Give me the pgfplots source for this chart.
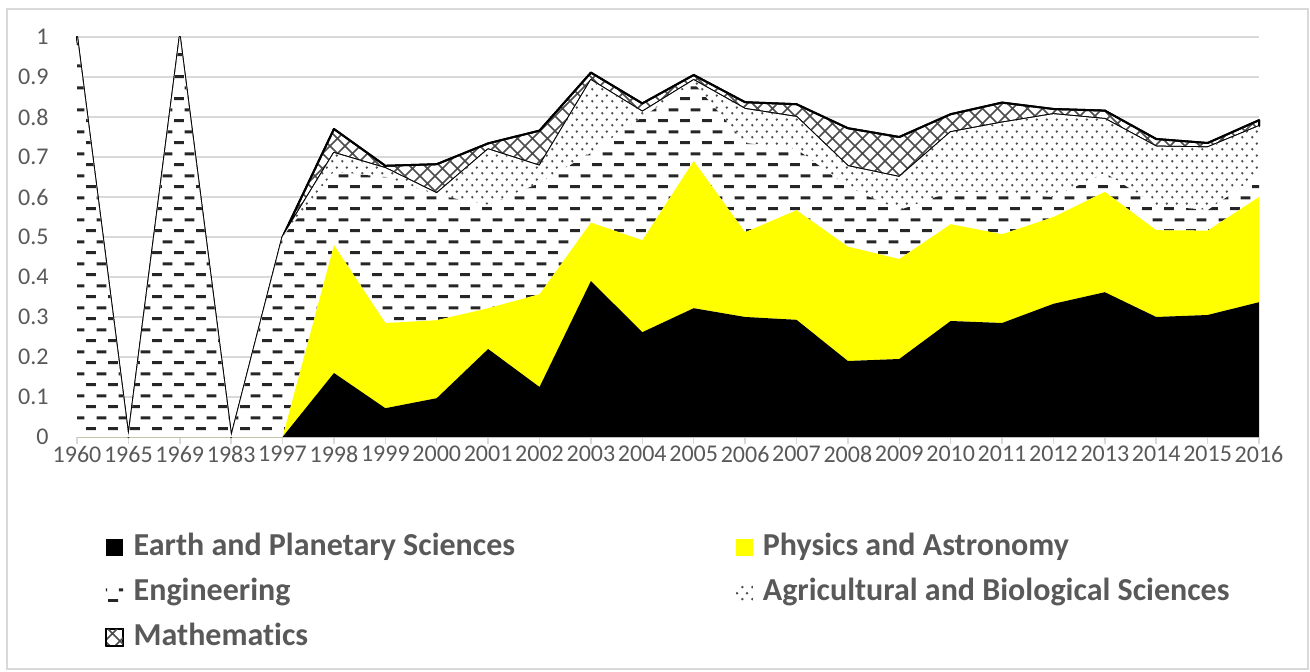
\documentclass[border=0pt]{standalone}
\usepackage{fontspec}
\setmainfont{Carlito}[Ligatures=NoCommon]
\usepackage{pgfplots}
\usepackage{pgfplotstable}
\pgfplotsset{compat=1.18}
\usetikzlibrary{patterns}
\definecolor{txt}{HTML}{595959}
\definecolor{grd}{HTML}{D9D9D9}
\definecolor{yel}{HTML}{FFFF00}
\pgfdeclarepatternformonly{xdash}{\pgfqpoint{0pt}{0pt}}{\pgfqpoint{10.8pt}{10.8pt}}{\pgfqpoint{10.8pt}{10.8pt}}{%
 \pgfpathrectangle{\pgfqpoint{0pt}{2pt}}{\pgfqpoint{5pt}{1.5pt}}%
 \pgfpathrectangle{\pgfqpoint{5.4pt}{7.4pt}}{\pgfqpoint{5pt}{1.5pt}}%
 \pgfusepath{fill}}
\pgfdeclarepatternformonly{xdots}{\pgfqpoint{0pt}{0pt}}{\pgfqpoint{5pt}{5.8pt}}{\pgfqpoint{5pt}{5.8pt}}{%
 \pgfpathcircle{\pgfqpoint{1.25pt}{1.45pt}}{0.7pt}%
 \pgfpathcircle{\pgfqpoint{3.75pt}{4.35pt}}{0.7pt}%
 \pgfusepath{fill}}
\pgfdeclarepatternformonly{xhatch}{\pgfqpoint{-0.5pt}{-0.5pt}}{\pgfqpoint{8pt}{8pt}}{\pgfqpoint{7.5pt}{7.5pt}}{%
 \pgfsetlinewidth{0.8pt}%
 \pgfpathmoveto{\pgfqpoint{0pt}{0pt}}\pgfpathlineto{\pgfqpoint{7.5pt}{7.5pt}}%
 \pgfpathmoveto{\pgfqpoint{0pt}{7.5pt}}\pgfpathlineto{\pgfqpoint{7.5pt}{0pt}}%
 \pgfusepath{stroke}}

\pgfplotstableread{
x earth phys eng agri math
0 0 0 1 0 0
1 0 0 0 0 0
2 0 0 1 0 0
3 0 0 0 0 0
4 0 0 0.5 0 0
5 0.160 0.320 0.183 0.047 0.060
6 0.072 0.213 0.365 0.022 0.006
7 0.097 0.195 0.313 0.004 0.073
8 0.220 0.102 0.258 0.139 0.015
9 0.125 0.232 0.278 0.043 0.088
10 0.390 0.146 0.174 0.182 0.019
11 0.262 0.230 0.308 0.013 0.021
12 0.322 0.368 0.195 0.007 0.013
13 0.300 0.212 0.223 0.085 0.017
14 0.293 0.274 0.153 0.080 0.032
15 0.190 0.286 0.149 0.052 0.095
16 0.195 0.250 0.122 0.083 0.100
17 0.290 0.242 0.081 0.149 0.045
18 0.285 0.222 0.103 0.176 0.050
19 0.333 0.217 0.050 0.207 0.013
20 0.362 0.251 0.047 0.135 0.021
21 0.300 0.217 0.063 0.146 0.019
22 0.305 0.211 0.051 0.157 0.011
23 0.337 0.263 0.055 0.122 0.015
}\data

\begin{document}
\begin{tikzpicture}
\useasboundingbox (-38.5pt,-117pt) rectangle (616.5pt,218.5pt);
\draw[grd, line width=0.6pt] (-35pt,-116pt) rectangle (615.5pt,214pt);
\begin{axis}[
  at={(0pt,0pt)}, anchor=south west,
  scale only axis, width=591pt, height=200pt,
  xmin=0, xmax=23, ymin=0, ymax=1,
  clip=false,
  stack plots=y,
  axis x line*=bottom, axis y line*=left,
  y axis line style={draw=none},
  x axis line style={grd, line width=0.75pt},
  xtick={0,...,23},
  xticklabels={1960,1965,1969,1983,1997,1998,1999,2000,2001,2002,2003,2004,2005,2006,2007,2008,2009,2010,2011,2012,2013,2014,2015,2016},
  ytick={0,0.1,0.2,0.3,0.4,0.5,0.6,0.7,0.8,0.9,1},
  yticklabels={0,0.1,0.2,0.3,0.4,0.5,0.6,0.7,0.8,0.9,1},
  ymajorgrids, grid style={grd, line width=0.75pt},
  tick align=outside, major tick length=3.5pt,
  xtick style={grd, line width=0.75pt},
  ytick style={draw=none},
  tick label style={font=\fontsize{12}{14}\selectfont, text=txt},
  xticklabel style={inner sep=0pt, anchor=north, yshift=-1pt},
  yticklabel style={inner sep=0pt, anchor=east, xshift=-10.5pt},
  legend columns=2, legend cell align=left,
  legend style={at={(0.0236,-0.24)}, anchor=north west, draw=none, fill=none, inner sep=0pt,
    font=\bfseries\fontsize{16}{19}\selectfont, text=txt,
    nodes={inner sep=0pt, text height=11pt, text depth=3pt},
    row sep=8.5pt, column sep=0pt},
  legend image code/.code={\path[#1, line width=0.6pt] (0pt,-4.3pt) rectangle (8.6pt,4.3pt);},
]
\addplot[fill=black, draw=none] table[x=x,y=earth]{\data} \closedcycle;
\addlegendentry{\hspace{5pt}\makebox[301pt][l]{Earth and Planetary Sciences}}
\addplot[fill=yel, draw=none] table[x=x,y=phys]{\data} \closedcycle;
\addlegendentry{\hspace{5pt}Physics and Astronomy}
\addplot[draw=none, preaction={fill=white}, pattern=xdash, pattern color=black!85] table[x=x,y=eng]{\data} \closedcycle;
\addlegendentry{\hspace{5pt}\makebox[301pt][l]{Engineering}}
\addplot[draw=none, preaction={fill=white}, pattern=xdots, pattern color=black!70] table[x=x,y=agri]{\data} \closedcycle;
\addlegendentry{\hspace{5pt}Agricultural and Biological Sciences}
\addplot[draw=black, line width=1pt, line join=round, preaction={fill=white}, pattern=xhatch, pattern color=black!70] table[x=x,y=math]{\data} \closedcycle;
\addlegendentry{\hspace{5pt}\makebox[301pt][l]{Mathematics}}
\end{axis}
\end{tikzpicture}
\end{document}
